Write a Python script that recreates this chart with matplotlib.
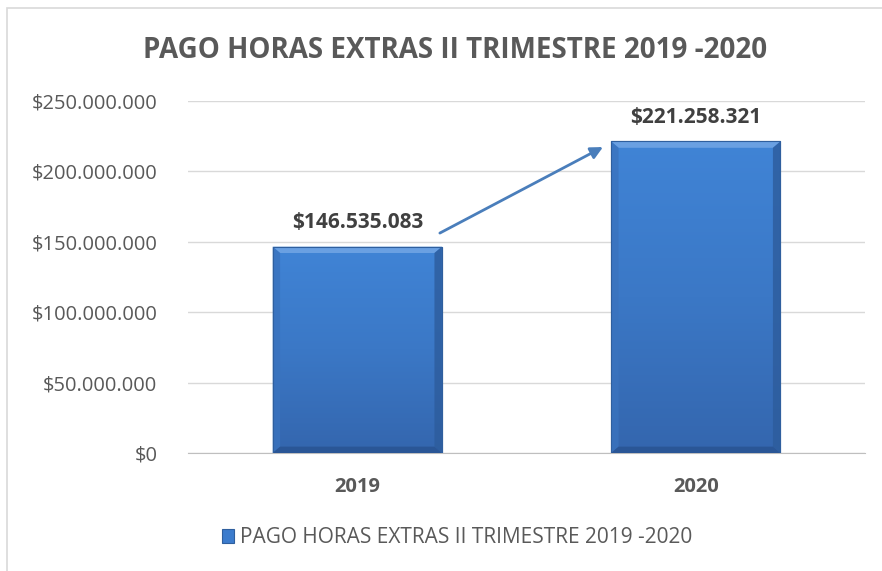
import matplotlib
matplotlib.use("Agg")
import matplotlib.pyplot as plt
import numpy as np
from matplotlib.patches import Polygon, Rectangle
from matplotlib.colors import LinearSegmentedColormap
from matplotlib.ticker import FuncFormatter

categories = ["2019", "2020"]
values = [146535083, 221258321]
value_labels = ["$146.535.083", "$221.258.321"]
series_name = "PAGO HORAS EXTRAS II TRIMESTRE 2019 -2020"
title = "PAGO HORAS EXTRAS II TRIMESTRE 2019 -2020"
yticks = [0, 50000000, 100000000, 150000000, 200000000, 250000000]

plt.rcParams['font.family'] = ['Open Sans', 'DejaVu Sans']

fig = plt.figure(figsize=(8.82, 5.71), dpi=100)
ax = fig.add_axes([0.2132, 0.2067, 0.7675, 0.6164])

x = list(range(len(categories)))
bar_color = "#3C7CCD"
bars = ax.bar(x, values, width=0.5, color=bar_color, edgecolor="#2F5F9E", linewidth=0.8, zorder=3)

grad_cmap = LinearSegmentedColormap.from_list("g", ["#3466AE", "#3B78C6", "#4084D6"])
for b in bars:
    x0, w, h = b.get_x(), b.get_width(), b.get_height()
    grad = np.linspace(0, 1, 256).reshape(-1, 1)
    im = ax.imshow(grad, cmap=grad_cmap, origin="lower", aspect="auto",
                   extent=[x0, x0 + w, 0, h], zorder=3.5)
    im.set_clip_path(b)
    bx, by = 0.022, 4.5e6
    top = Polygon([[x0, h], [x0 + w, h], [x0 + w - bx, h - by], [x0 + bx, h - by]],
                  closed=True, facecolor="#6AA0E2", edgecolor="none", zorder=4)
    left = Polygon([[x0, 0], [x0, h], [x0 + bx, h - by], [x0 + bx, by]],
                   closed=True, facecolor="#3A73BE", edgecolor="none", zorder=4, alpha=0.8)
    right = Polygon([[x0 + w, 0], [x0 + w, h], [x0 + w - bx, h - by], [x0 + w - bx, by]],
                    closed=True, facecolor="#2D5C9C", edgecolor="none", zorder=4, alpha=0.8)
    bottom = Polygon([[x0, 0], [x0 + w, 0], [x0 + w - bx, by], [x0 + bx, by]],
                     closed=True, facecolor="#2A5696", edgecolor="none", zorder=4)
    for p in (top, left, right, bottom):
        ax.add_patch(p)
    ax.add_patch(Rectangle((x0, 0), w, h, facecolor="none", edgecolor="#2F5F9E", linewidth=0.8, zorder=5))

for xi, v, lab in zip(x, values, value_labels):
    ax.annotate(lab, (xi, v), xytext=(0, 10), textcoords="offset points",
                ha="center", va="bottom", fontsize=15, fontweight="bold", color="#404040")

ax.annotate("", xy=(0.726, 217.3e6), xytext=(0.244, 156.2e6),
            arrowprops=dict(arrowstyle="-|>", color="#4A7EBB", lw=2, mutation_scale=18,
                            shrinkA=0, shrinkB=0), zorder=6)

ax.set_xlim(-0.5, 1.5)
ax.set_ylim(0, 250000000)
ax.set_yticks(yticks)
ax.yaxis.set_major_formatter(FuncFormatter(lambda v, p: "$" + f"{int(v):,}".replace(",", ".")))
ax.set_xticks(x)
ax.set_xticklabels(categories, fontweight="bold")
ax.tick_params(axis="y", length=0, labelsize=14.5, labelcolor="#595959", pad=22)
ax.tick_params(axis="x", length=0, labelsize=14.5, labelcolor="#595959", pad=17)
ax.grid(axis="y", color="#D9D9D9", linewidth=1, zorder=0)
for s in ("top", "right", "left"):
    ax.spines[s].set_visible(False)
ax.spines["bottom"].set_color("#BFBFBF")

fig.text(0.516, 0.912, title, ha="center", va="center", fontsize=20, fontweight="bold",
         color="#595959")

leg = fig.legend([bars[0]], [series_name], loc="center", bbox_to_anchor=(0.518, 0.058),
                 frameon=False, fontsize=15, handlelength=0.6, handleheight=0.6,
                 handletextpad=0.25, labelcolor="#595959")

fig.add_artist(Rectangle((0.008, -0.01), 1.1, 0.996, transform=fig.transFigure,
                         facecolor="none", edgecolor="#D9D9D9", linewidth=1.2))

fig.savefig("out.png", dpi=100)
